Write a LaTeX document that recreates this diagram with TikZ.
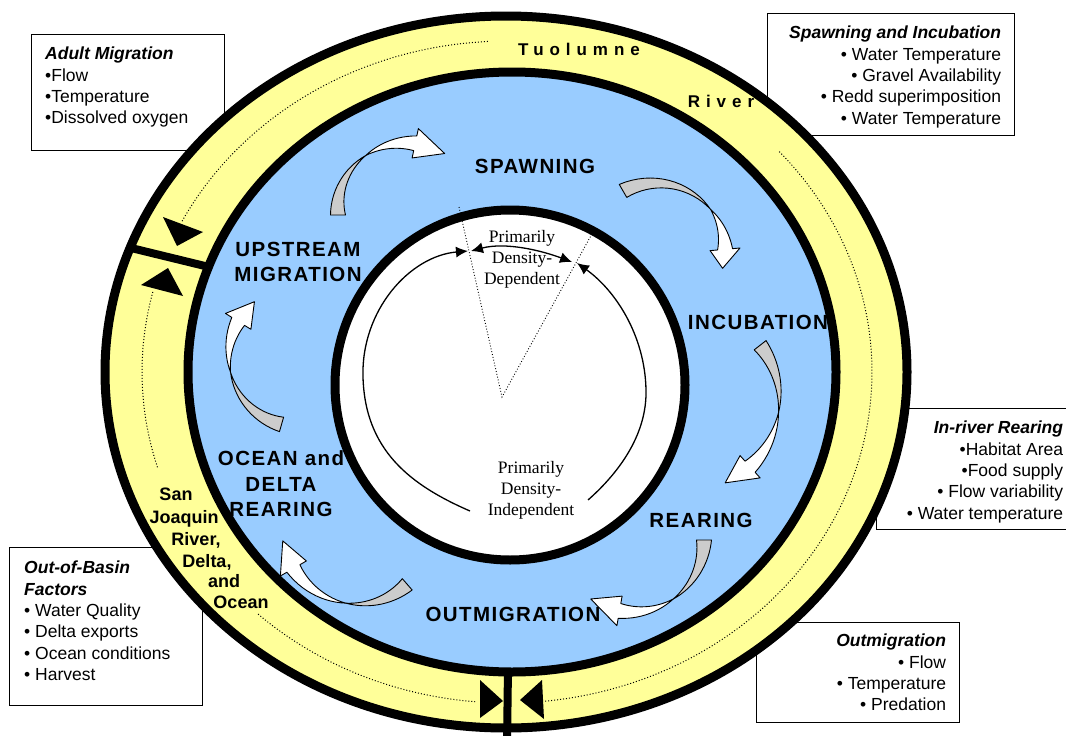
\documentclass[tikz,border=0pt]{standalone}
\usepackage{fontspec}
\setmainfont{Liberation Sans}
\newfontfamily\serifnote{Liberation Serif}
\newfontfamily\stagefont[LetterSpace=7]{Liberation Sans}
\newfontfamily\riverfont[LetterSpace=35]{Liberation Sans}
\usepackage{tikz}
\usetikzlibrary{%
  arrows.meta,% wg. Latex[...]
  positioning% wg. " of "
}

\definecolor{riveryellow}{RGB}{255,255,153}
\definecolor{stageblue}{RGB}{153,204,255}
\definecolor{backgray}{RGB}{204,204,204}

\newcommand{\bandw}{7.5}% half width of a block arrow
\newcommand{\headw}{15}% half width of its head

% curved block arrow: centre x, centre y, radius at tail, radius at tip,
% angles of tail, twist, head base, tip
\newcommand{\cyclearrow}[8]{%
  \pgfmathsetmacro{\rbase}{(#3)+((#4)-(#3))*((#7)-(#5))/((#8)-(#5))}%
  \filldraw[tailpart]
    plot[domain=#5:#6, samples=18]
      ({(#1)+((#3)+((#4)-(#3))*(\x-(#5))/((#8)-(#5))+\bandw*((#6)-\x)/((#6)-(#5)))*cos(\x)},
       {(#2)+((#3)+((#4)-(#3))*(\x-(#5))/((#8)-(#5))+\bandw*((#6)-\x)/((#6)-(#5)))*sin(\x)})
    -- plot[domain=#6:#5, samples=18]
      ({(#1)+((#3)+((#4)-(#3))*(\x-(#5))/((#8)-(#5))-\bandw*((#6)-\x)/((#6)-(#5)))*cos(\x)},
       {(#2)+((#3)+((#4)-(#3))*(\x-(#5))/((#8)-(#5))-\bandw*((#6)-\x)/((#6)-(#5)))*sin(\x)})
    -- cycle;
  \filldraw[headpart]
    plot[domain=#6:#7, samples=14]
      ({(#1)+((#3)+((#4)-(#3))*(\x-(#5))/((#8)-(#5))+\bandw*(\x-(#6))/((#7)-(#6)))*cos(\x)},
       {(#2)+((#3)+((#4)-(#3))*(\x-(#5))/((#8)-(#5))+\bandw*(\x-(#6))/((#7)-(#6)))*sin(\x)})
    -- ({(#1)+(\rbase+\headw)*cos(#7)},{(#2)+(\rbase+\headw)*sin(#7)})
    -- ({(#1)+(#4)*cos(#8)},{(#2)+(#4)*sin(#8)})
    -- ({(#1)+(\rbase-\headw)*cos(#7)},{(#2)+(\rbase-\headw)*sin(#7)})
    -- plot[domain=#7:#6, samples=14]
      ({(#1)+((#3)+((#4)-(#3))*(\x-(#5))/((#8)-(#5))-\bandw*(\x-(#6))/((#7)-(#6)))*cos(\x)},
       {(#2)+((#3)+((#4)-(#3))*(\x-(#5))/((#8)-(#5))-\bandw*(\x-(#6))/((#7)-(#6)))*sin(\x)})
    -- cycle;
}

\tikzset{
  ring/.style={draw=black, line width=9pt},
  factbox/.style={draw=black, line width=1.3pt, fill=white, inner sep=0pt},
  facttext/.style={inner sep=0pt, font=\fontsize{17.5}{21.3}\selectfont},
  stage/.style={align=center, inner sep=0pt, font=\stagefont\bfseries\fontsize{20.5}{25.5}\selectfont},
  rivername/.style={inner sep=0pt, anchor=base, font=\riverfont\bfseries\fontsize{17}{20}\selectfont},
  sjline/.style={inner sep=0pt, anchor=base, font=\bfseries\fontsize{18}{22}\selectfont},
  densnote/.style={align=center, inner sep=0pt, font=\serifnote\fontsize{17.5}{21}\selectfont},
  riverline/.style={dotted, line width=1pt, black},
  splitline/.style={dotted, line width=0.9pt, black},
  cycleline/.style={line width=1.3pt},
  flowtip/.style={fill=black},
  tailpart/.style={fill=backgray, draw=black, line width=0.9pt, line join=round},
  headpart/.style={fill=white, draw=black, line width=0.9pt, line join=round}
}

\begin{document}
\begin{tikzpicture}[x=1pt, y=-1pt]
  \useasboundingbox (0,0) rectangle (1066,736);
  \clip (0,0) rectangle (1066,736);

  %factor boxes, partly behind the ring
  \node[factbox, minimum width=193pt, minimum height=116pt, anchor=north west] (adultbox) at (31,34) {};
  \node[facttext, align=left] (adulttxt) [below right=13pt and 14pt of adultbox.north west]
    {\textbf{\textit{Adult Migration}}\\•Flow\\•Temperature\\•Dissolved oxygen};

  \node[factbox, minimum width=247pt, minimum height=122pt, anchor=north west] (spawnbox) at (767,13) {};
  \node[facttext, align=right] (spawntxt) [below left=13pt and 14pt of spawnbox.north east]
    {\textbf{\textit{Spawning and Incubation}}\\• Water Temperature\\• Gravel Availability\\• Redd superimposition\\• Water Temperature};

  \node[factbox, minimum width=199pt, minimum height=121pt, anchor=north west] (rearbox) at (876,408) {};
  \node[facttext, align=right] (reartxt) [below left=13pt and 13pt of rearbox.north east]
    {\textbf{\textit{In-river Rearing}}\\•Habitat Area\\•Food supply\\• Flow variability\\• Water temperature};

  \node[factbox, minimum width=193pt, minimum height=158pt, anchor=north west] (basinbox) at (9,547) {};
  \node[facttext, align=left] (basintxt) [below right=14pt and 15pt of basinbox.north west]
    {\textbf{\textit{Out-of-Basin}}\\\textbf{\textit{Factors}}\\• Water Quality\\• Delta exports\\• Ocean conditions\\• Harvest};

  \node[factbox, minimum width=203pt, minimum height=100pt, anchor=north west] (outbox) at (756,622) {};
  \node[facttext, align=right] (outtxt) [below left=12pt and 14pt of outbox.north east]
    {\textbf{\textit{Outmigration}}\\• Flow\\• Temperature\\• Predation};

  %river ring
  \draw[ring, fill=riveryellow] (506,372) ellipse [x radius=401, y radius=356];
  \draw[riverline] plot[domain=267:207, samples=50] ({507+365*cos(\x)},{372+331*sin(\x)});
  \draw[riverline] plot[domain=194:163, samples=30] ({507+365*cos(\x)},{372+331*sin(\x)});
  \draw[riverline] plot[domain=133:95, samples=40] ({507+365*cos(\x)},{372+331*sin(\x)});
  \draw[riverline] plot[domain=84:-42, samples=100] ({507+365*cos(\x)},{372+331*sin(\x)});

  %confluences
  \draw[line width=8pt] (127,247) -- (205,266);
  \draw[line width=8pt] (508,668) -- (507,745);
  \fill[flowtip] (163,217) -- (203,232) -- (177,246) -- cycle;
  \fill[flowtip] (141,285) -- (168,268) -- (183,296) -- cycle;
  \fill[flowtip] (480,680) -- (503,701) -- (480,718) -- cycle;
  \fill[flowtip] (542,680) -- (520,700) -- (544,719) -- cycle;

  \node[rivername] (tuolumne) at (579,55) {Tuolumne};
  \node[rivername] (river) at (721,107) {River};

  \node[sjline] (sj1) at (176,500) {San};
  \node[sjline] (sj2) at (184,523) {Joaquin};
  \node[sjline] (sj3) at (196,545) {River,};
  \node[sjline] (sj4) at (207,567) {Delta,};
  \node[sjline] (sj5) at (224,587) {and};
  \node[sjline] (sj6) at (241,608) {Ocean};

  %life stages
  \draw[ring, fill=stageblue] (512,372) ellipse [x radius=324, y radius=300];
  \draw[ring, fill=white] (510,385) circle [radius=175];

  %density regimes
  \coordinate (apex) at (502,397);
  \coordinate (splitL) at (459,207);
  \coordinate (splitR) at (593,232);
  \coordinate (indepL) at (470,511);
  \coordinate (indepR) at (588,500);
  \coordinate (depL) at (468,251);
  \coordinate (depL2) at (471,251);
  \coordinate (depR2) at (572,262);
  \coordinate (depR) at (577,263);
  \draw[splitline] (splitL) -- (apex) -- (splitR);
  \draw[cycleline, -{Latex[length=12pt, width=11pt]}]
    (indepL) .. controls (410,485) and (365,450) .. (363,377)
             .. controls (361,310) and (410,256) .. (depL);
  \draw[cycleline, {Latex[length=12pt, width=11pt]}-{Latex[length=12pt, width=11pt]}]
    (depL2) .. controls (505,242) and (540,250) .. (depR2);
  \draw[cycleline, -{Latex[length=12pt, width=11pt]}]
    (indepR) .. controls (622,470) and (647,432) .. (646,390)
             .. controls (645,335) and (615,290) .. (depR);
  \node[densnote] (dependent) at (522,259) {Primarily\\Density-\\Dependent};
  \node[densnote] (independent) at (531,490) {Primarily\\Density-\\Independent};

  \node[stage] (spawning) at (535,166) {SPAWNING};
  \node[stage] (incubation) at (758,322) {INCUBATION};
  \node[stage] (rearing) at (701,520) {REARING};
  \node[stage] (outmigration) at (513,614) {OUTMIGRATION};
  \node[stage] (ocean) at (281,484) {OCEAN and\\DELTA\\REARING};
  \node[stage] (upstream) at (298,262) {UPSTREAM\\MIGRATION};

  %block arrows between stages
  \cyclearrow{400}{215}{62}{76}{180}{240}{282}{306}
  \cyclearrow{660}{255}{74}{64}{240}{318}{355}{372}
  \cyclearrow{690}{400}{89}{90}{-38}{8}{48}{67}
  \cyclearrow{632}{540}{72}{72}{0}{55}{100}{125}
  \cyclearrow{360}{530}{72}{78}{49}{101}{150}{172}
  \cyclearrow{300}{360}{67}{74}{106}{170}{212}{232}
\end{tikzpicture}
\end{document}
